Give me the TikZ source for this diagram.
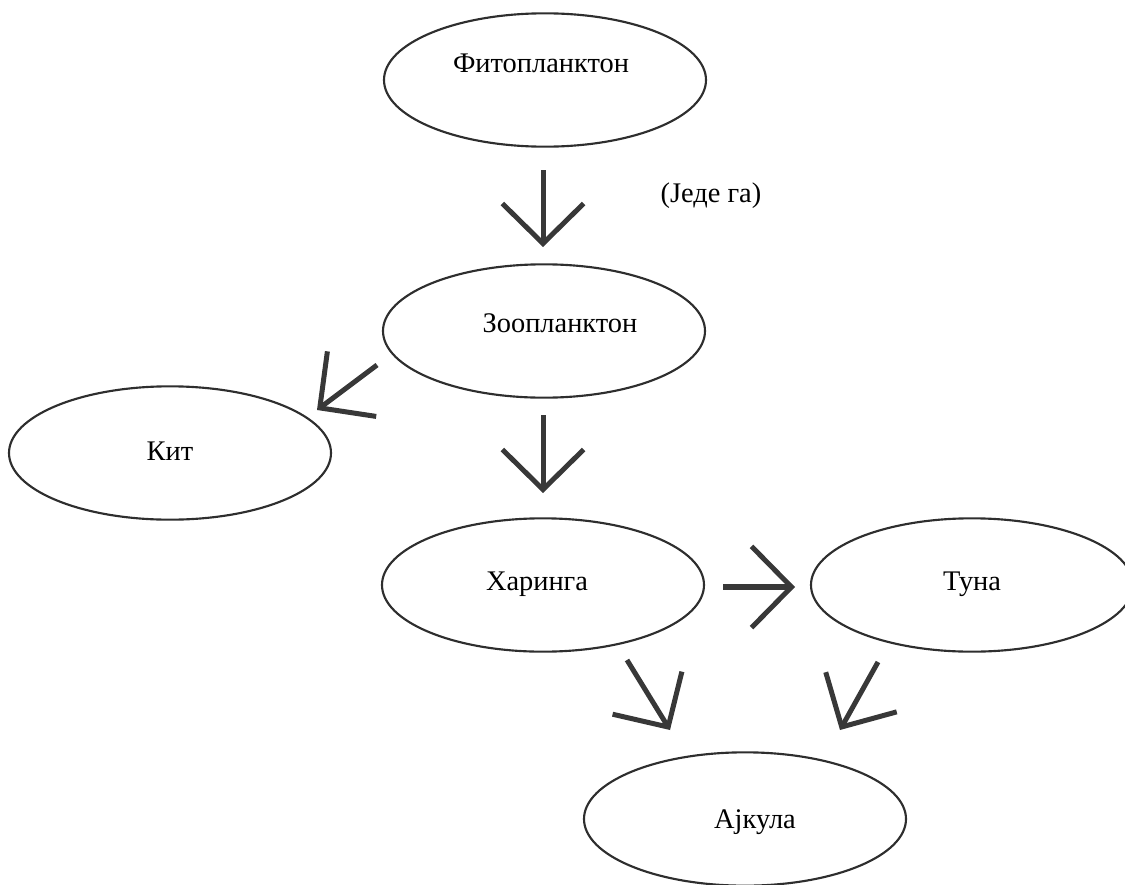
\documentclass[tikz,border=0pt]{standalone}
\usepackage{fontspec}
\setmainfont{Liberation Serif}
\usetikzlibrary{arrows.meta,shapes.geometric}
\definecolor{ink}{HTML}{2E2E2E}
\definecolor{arrowink}{HTML}{383838}
\begin{document}
\begin{tikzpicture}[x=0.75pt,y=-0.75pt,
  oval/.style={draw=ink, line width=1.6pt, ellipse, minimum width=241.5pt, minimum height=100pt, inner sep=0pt},
  lbl/.style={anchor=base, font=\fontsize{21.3}{25}\selectfont, inner sep=0pt},
  arr/.style={draw=arrowink, line width=3.75pt, -{Straight Barb[length=30pt,width=61pt]}}]
\useasboundingbox (0,0) rectangle (1125,885);
\clip (0,0) rectangle (1125,885);
% ellipses
\node[oval] (fito) at (545,80) {};
\node[oval] (zoo) at (544,331) {};
\node[oval] (kit) at (170,453) {};
\node[oval] (har) at (543,585) {};
\node[oval] (tuna) at (972,585) {};
\node[oval] (shark) at (745,819) {};
% labels
\node[lbl] (fitot) at (541,72) {Фитопланктон};
\node[lbl] (zoot) at (560,332) {Зоопланктон};
\node[lbl] (kitt) at (170,460) {Кит};
\node[lbl] (hart) at (537,590) {Харинга};
\node[lbl] (tunat) at (972,590) {Туна};
\node[lbl] (sharkt) at (755,828) {Ајкула};
\node[lbl] (eat) at (711,202) {(Једе га)};
% arrow end points
\coordinate (a1s) at (543,170); \coordinate (a1e) at (543,247);
\coordinate (a2s) at (543,415); \coordinate (a2e) at (543,493);
\coordinate (a3s) at (377,365); \coordinate (a3e) at (317,410);
\coordinate (a4s) at (723,587); \coordinate (a4e) at (795,587);
\coordinate (a5s) at (627,660); \coordinate (a5e) at (670,730);
\coordinate (a6s) at (878,662); \coordinate (a6e) at (840,730);
% arrows
\draw[arr] (a1s) -- (a1e);
\draw[arr] (a2s) -- (a2e);
\draw[arr] (a3s) -- (a3e);
\draw[arr, line width=5pt, -{Straight Barb[length=30pt,width=61pt,line width=3.75pt]}] (a4s) -- (a4e);
\draw[arr] (a5s) -- (a5e);
\draw[arr] (a6s) -- (a6e);
\end{tikzpicture}
\end{document}
